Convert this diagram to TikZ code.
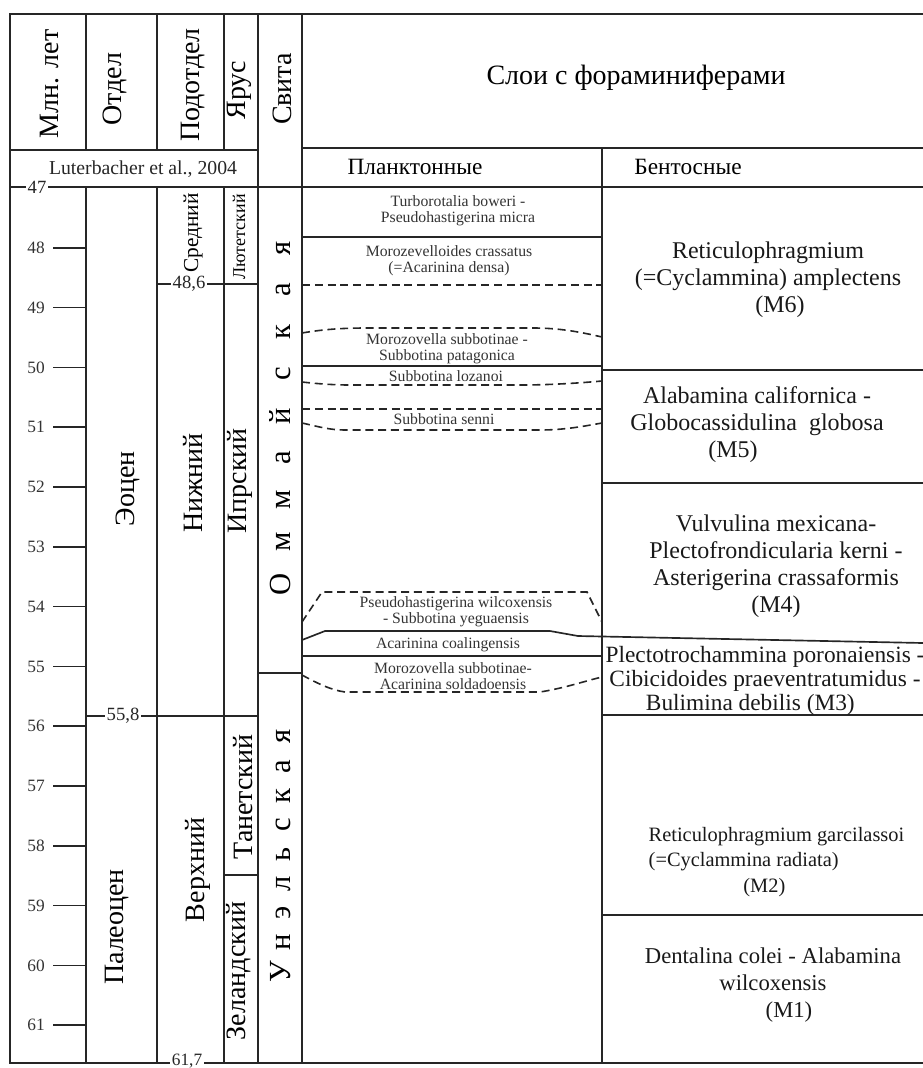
\documentclass[tikz,border=0pt]{standalone}
\usepackage{fontspec}
\setmainfont{Liberation Serif}
\tikzset{%
	rule/.style      = {line width=1.25pt, black!85},
	dashrule/.style  = {line width=1.2pt, black!85, dash pattern=on 6pt off 3.6pt},
	colhead/.style   = {rotate=90, font=\fontsize{21}{24}\selectfont},
	unit/.style      = {rotate=90, font=\fontsize{21}{24}\selectfont},
	agenum/.style    = {font=\fontsize{13}{15}\selectfont, text=black!80},
	limit/.style     = {fill=white, inner sep=1.5pt, font=\fontsize{14}{16}\selectfont, text=black!85},
	plank/.style     = {align=center, font=\fontsize{11.8}{12}\selectfont, text=black!80},
	benth/.style     = {align=center, font=\fontsize{18}{20.3}\selectfont, text=black!90},
	svita/.style     = {rotate=90, anchor=base, font=\fontsize{23}{26}\selectfont},
}
\begin{document}
\begin{tikzpicture}[x=0.75pt,y=-0.75pt]
	\useasboundingbox (0,0) rectangle (923,1068);
	% frame and columns
	\draw[rule] (923,14) -- (10,14) -- (10,1063) -- (923,1063);
	\draw[rule] (86,14) -- (86,150) (157,14) -- (157,150) (224,14) -- (224,150);
	\draw[rule] (86,187) -- (86,1063) (157,187) -- (157,1063) (224,187) -- (224,1063);
	\draw[rule] (258,14) -- (258,1063);
	\draw[rule] (302,14) -- (302,1063);
	\draw[rule] (602,148) -- (602,1063);
	\draw[rule] (10,150) -- (258,150);
	\draw[rule] (302,148) -- (923,148);
	\draw[rule] (10,187) -- (923,187);
	% stratigraphic boundaries
	\draw[rule] (157,284) -- (258,284);
	\draw[rule] (86,716) -- (258,716);
	\draw[rule] (224,875) -- (258,875);
	\draw[rule] (258,673) -- (302,673);
	\node[limit] (b47) at (37,187) {47};
	\node[limit] (b486) at (189,284) {48,6};
	\node[limit] (b558) at (123,716) {55,8};
	\node[limit, font=\fontsize{13}{15}\selectfont] (b617) at (187,1061) {61,7};
	% age scale
	\foreach \t in {48,...,61}{
		\draw[rule] (53,{188+(\t-47)*59.8}) -- (86,{188+(\t-47)*59.8});
		\node[agenum] (age\t) at (36,{188+(\t-47)*59.8}) {\t};
	}
	% header
	\node[colhead] (hage) at (50,84) {Млн. лет};
	\node[colhead] (hser) at (115,89) {Отдел};
	\node[colhead] (hsub) at (193,85) {Подотдел};
	\node[colhead] (hsta) at (239,90) {Ярус};
	\node[colhead] (hfm) at (282,89) {Свита};
	\node[font=\fontsize{21}{25}\selectfont] (hlay) at (636,78) {Слои с фораминиферами};
	\node[font=\fontsize{17.5}{20}\selectfont] (hpl) at (415,167) {Планктонные};
	\node[font=\fontsize{17.5}{20}\selectfont] (hbe) at (688,167) {Бентосные};
	\node[font=\fontsize{14.8}{17}\selectfont, text=black!85] (lut) at (143,169) {Luterbacher et al., 2004};
	% series, subseries, stages
	\node[unit] (eoc) at (128,489) {Эоцен};
	\node[unit] (pal) at (117,927) {Палеоцен};
	\node[unit, font=\fontsize{16}{18}\selectfont] (mid) at (193,233) {Средний};
	\node[unit] (low) at (193,483) {Нижний};
	\node[unit] (upp) at (198,870) {Верхний};
	\node[unit, font=\fontsize{13.5}{15}\selectfont] (ltt) at (239,237) {Лютетский};
	\node[unit] (ypr) at (240,481) {Ипрский};
	\node[unit] (tan) at (243,797) {Танетский};
	\node[unit] (zel) at (239,971) {Зеландский};
	% formations
	\foreach \ch [count=\i from 0] in {О,м,м,а,й,с,к,а,я}
		\node[svita] (om\i) at (290,{584-42*\i}) {\ch};
	\foreach \ch [count=\i from 0] in {У,н,э,л,ь,с,к,а,я}
		\node[svita] (un\i) at (290,{972-29.4*\i}) {\ch};
	% planktonic zones
	\draw[rule] (302,237) -- (602,237);
	\draw[dashrule] (302,285) -- (602,285);
	\draw[dashrule] (302,333) .. controls (325,329) and (345,328) .. (367,328) -- (533,328)
		.. controls (560,328) and (580,332) .. (602,337);
	\draw[rule] (302,366) -- (602,366);
	\draw[dashrule] (302,382) .. controls (320,384) and (335,385) .. (350,385) -- (520,385)
		.. controls (550,385) and (580,383) .. (602,381);
	\draw[dashrule] (302,409) -- (602,409);
	\draw[dashrule] (302,423) .. controls (320,427) and (330,430) .. (345,430) -- (540,430)
		.. controls (565,430) and (585,426) .. (602,423);
	\draw[dashrule] (302,622) -- (322,592) -- (587,592) -- (602,622);
	\draw[rule] (302,640) -- (325,631) -- (550,631) -- (578,636) -- (923,643);
	\draw[rule] (302,656) -- (602,656);
	\draw[dashrule] (302,675) .. controls (315,682) and (330,690) .. (345,692) -- (540,692)
		.. controls (565,688) and (585,681) .. (602,677);
	\node[plank] (pz1) at (458,211) {Turborotalia boweri -\\Pseudohastigerina micra};
	\node[plank] (pz2) at (449,261) {Morozevelloides crassatus\\(=Acarinina densa)};
	\node[plank] (pz3) at (447,349) {Morozovella subbotinae -\\Subbotina patagonica};
	\node[plank] (pz4) at (446,376) {Subbotina lozanoi};
	\node[plank] (pz5) at (444,419) {Subbotina senni};
	\node[plank] (pz6) at (456,612) {Pseudohastigerina wilcoxensis\\- Subbotina yeguaensis};
	\node[plank] (pz7) at (448,645) {Acarinina coalingensis};
	\node[plank] (pz8) at (453,676) {Morozovella subbotinae-\\Acarinina soldadoensis};
	% benthic zones
	\draw[rule] (602,370) -- (923,370);
	\draw[rule] (602,483) -- (923,483);
	\draw[rule] (602,715) -- (923,715);
	\draw[rule] (602,915) -- (923,915);
	\node[benth] (m6) at (768,280) {Reticulophragmium\\(=Cyclammina) amplectens\\\hspace*{18pt}(M6)};
	\node[benth] (m5) at (757,425) {Alabamina californica -\\Globocassidulina~ globosa\\(M5)\hspace*{36pt}};
	\node[benth] (m4) at (776,566) {Vulvulina mexicana-\\Plectofrondicularia kerni -\\Asterigerina crassaformis\\(M4)};
	\node[benth, font=\fontsize{17.5}{18}\selectfont] (m3) at (765,681) {Plectotrochammina poronaiensis -\\Cibicidoides praeventratumidus -\\Bulimina debilis (M3)\hspace*{22pt}};
	\node[benth, align=left, anchor=west, font=\fontsize{15.3}{19}\selectfont] (m2) at (644,862) {Reticulophragmium garcilassoi\\(=Cyclammina radiata)\\\hspace*{71pt}(M2)};
	\node[benth, font=\fontsize{17}{20.3}\selectfont] (m1) at (773,985) {Dentalina colei - Alabamina\\wilcoxensis\\\hspace*{24pt}(M1)};
\end{tikzpicture}
\end{document}
